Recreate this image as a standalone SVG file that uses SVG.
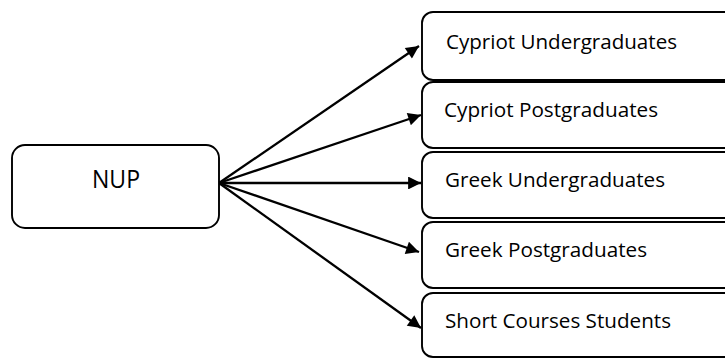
<svg xmlns="http://www.w3.org/2000/svg" width="725" height="358" viewBox="0 0 725 358">
<style>
.box{fill:#fff;stroke:#000;stroke-width:1.9}
.lbl{font-family:"Open Sans","Liberation Sans",Arial,sans-serif;font-size:19.5px;fill:#000}
.main{font-family:"Open Sans","Liberation Sans",Arial,sans-serif;font-size:26px;fill:#000}
.conn{stroke:#000;stroke-width:2.3;fill:none;marker-end:url(#ah)}
</style>
<defs>
<marker id="ah" viewBox="0 0 10 10" refX="10" refY="5" markerWidth="7" markerHeight="5.6" markerUnits="strokeWidth" orient="auto">
<path d="M0,0 L10,5 L0,10 z" fill="#000"/>
</marker>
</defs>
<rect width="725" height="358" fill="#fff"/>
<g id="connectors">
<line class="conn" x1="219" y1="183" x2="419" y2="46"/>
<line class="conn" x1="219" y1="183" x2="421" y2="115"/>
<line class="conn" x1="219" y1="183" x2="421" y2="183"/>
<line class="conn" x1="219" y1="183" x2="419" y2="252"/>
<line class="conn" x1="219" y1="183" x2="421" y2="328"/>
</g>
<g id="nup">
<rect class="box" x="12" y="145" width="207" height="83" rx="13"/>
<text class="main" x="92" y="188" textLength="48" lengthAdjust="spacingAndGlyphs">NUP</text>
</g>
<g id="cypriot-ug">
<rect class="box" x="422" y="12" width="330" height="68" rx="11"/>
<text class="lbl" x="446" y="49" textLength="231" lengthAdjust="spacingAndGlyphs">Cypriot Undergraduates</text>
</g>
<g id="cypriot-pg">
<rect class="box" x="422" y="82" width="330" height="66" rx="11"/>
<text class="lbl" x="444" y="117" textLength="214" lengthAdjust="spacingAndGlyphs">Cypriot Postgraduates</text>
</g>
<g id="greek-ug">
<rect class="box" x="422" y="152" width="330" height="66" rx="11"/>
<text class="lbl" x="445" y="187" textLength="220" lengthAdjust="spacingAndGlyphs">Greek Undergraduates</text>
</g>
<g id="greek-pg">
<rect class="box" x="422" y="222" width="330" height="66" rx="11"/>
<text class="lbl" x="445" y="257" textLength="202" lengthAdjust="spacingAndGlyphs">Greek Postgraduates</text>
</g>
<g id="short-courses">
<rect class="box" x="422" y="293" width="330" height="64" rx="11"/>
<text class="lbl" x="445" y="328" textLength="226" lengthAdjust="spacingAndGlyphs">Short Courses Students</text>
</g>
</svg>
